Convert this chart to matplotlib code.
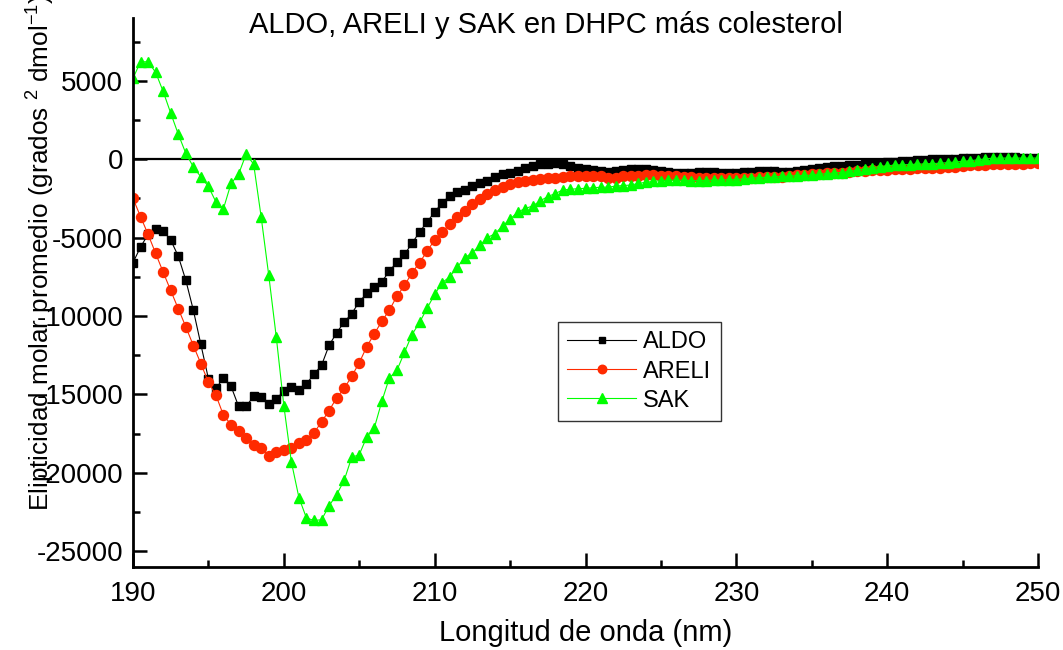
import numpy as np
import matplotlib
matplotlib.use("Agg")
import matplotlib.pyplot as plt
from matplotlib.ticker import MultipleLocator

plt.rcParams["font.family"] = ["Liberation Sans", "DejaVu Sans"]
plt.rcParams["mathtext.fontset"] = "custom"
plt.rcParams["mathtext.rm"] = "Liberation Sans"
plt.rcParams["axes.unicode_minus"] = False

# Wavelength grid (nm), 0.5 nm sampling from 190 to 250
wavelength = np.arange(190, 250.5, 0.5)

# Mean molar ellipticity, one row per 5 nm
aldo = [
    -6600, -5600, -4800, -4430, -4580, -5150, -6180, -7710, -9620, -11810,
    -13990, -14620, -13940, -14480, -15750, -15750, -15120, -15180, -15580, -15280,
    -14800, -14540, -14690, -14320, -13710, -13140, -11870, -11070, -10390, -9850,
    -9090, -8560, -8130, -7810, -7130, -6560, -6070, -5360, -4640, -4000,
    -3370, -2770, -2340, -2110, -1960, -1710, -1530, -1390, -1130, -960,
    -850, -750, -590, -430, -320, -280, -250, -320, -430, -580,
    -640, -680, -750, -800, -750, -700, -640, -600, -620, -700,
    -780, -830, -850, -860, -850, -830, -820, -840, -870, -880,
    -870, -840, -800, -780, -770, -780, -800, -790, -760, -700,
    -620, -560, -500, -450, -420, -380, -350, -330, -300, -250,
    -200, -160, -130, -100, -70, -40, -20, 0, 20, 40,
    60, 80, 100, 110, 120, 130, 120, 110, 100, 90,
    80,
]
areli = [
    -2500, -3660, -4790, -6000, -7200, -8370, -9530, -10680, -11880, -13030,
    -14220, -15050, -16330, -16920, -17300, -17800, -18200, -18410, -18950, -18670,
    -18560, -18410, -18090, -17880, -17450, -16750, -16030, -15220, -14620, -13840,
    -12980, -11950, -11130, -10330, -9620, -8730, -8050, -7240, -6600, -5860,
    -5150, -4640, -4150, -3700, -3300, -2870, -2550, -2240, -1980, -1770,
    -1600, -1450, -1390, -1320, -1280, -1230, -1170, -1130, -1100, -1060,
    -1060, -1060, -1100, -1170, -1170, -1100, -1060, -1060, -1000, -1020,
    -1050, -1080, -1100, -1120, -1150, -1170, -1180, -1190, -1200, -1200,
    -1190, -1180, -1170, -1160, -1150, -1140, -1110, -1080, -1040, -1000,
    -970, -940, -910, -880, -850, -810, -770, -740, -710, -680,
    -660, -640, -620, -600, -590, -570, -560, -540, -510, -470,
    -430, -400, -370, -350, -330, -310, -300, -290, -280, -270,
    -260,
]
sak = [
    5150, 6210, 6210, 5540, 4320, 2940, 1600, 380, -490, -1130,
    -1740, -2730, -3150, -1550, -960, 320, -320, -3700, -7400, -11340,
    -15710, -19300, -21570, -22880, -23030, -22990, -22100, -21390, -20480, -19010,
    -18840, -17710, -17130, -15430, -13940, -13460, -12310, -11180, -10410, -9500,
    -8620, -7870, -7500, -6870, -6280, -5960, -5490, -5000, -4750, -4260,
    -3830, -3370, -3150, -2980, -2660, -2380, -2190, -1960, -1920, -1880,
    -1860, -1820, -1790, -1780, -1720, -1680, -1650, -1550, -1470, -1420,
    -1360, -1340, -1340, -1350, -1360, -1370, -1360, -1340, -1330, -1320,
    -1300, -1260, -1210, -1180, -1160, -1130, -1100, -1080, -1050, -1040,
    -1020, -960, -920, -880, -850, -780, -700, -620, -550, -480,
    -420, -380, -360, -340, -320, -300, -280, -260, -220, -180,
    -140, -100, -40, 20, 60, 70, 70, 70, 70, 70,
    70,
]

fig = plt.figure(figsize=(10.63, 6.5), dpi=100)
ax = fig.add_axes([0.1251, 0.1277, 0.8514, 0.8446])

ax.axhline(0, color="black", lw=1.6, zorder=0.5)

ax.plot(wavelength, aldo, color="black", lw=0.8, marker="s", ms=5.8,
        mec="black", mfc="black", label="ALDO")
ax.plot(wavelength, areli, color="#ff2a00", lw=0.8, marker="o", ms=7.2,
        mec="#ff2a00", mfc="#ff2a00", label="ARELI")
ax.plot(wavelength, sak, color="#00ff00", lw=0.8, marker="^", ms=7.8,
        mec="#00ff00", mfc="#00ff00", label="SAK")

ax.set_xlim(190, 250)
ax.set_ylim(-26000, 9000)
ax.xaxis.set_major_locator(MultipleLocator(10))
ax.xaxis.set_minor_locator(MultipleLocator(5))
ax.yaxis.set_major_locator(MultipleLocator(5000))
ax.yaxis.set_minor_locator(MultipleLocator(2500))
ax.tick_params(which="both", direction="in", width=1.8, labelsize=20)
ax.tick_params(axis="x", pad=10)
ax.tick_params(axis="y", pad=7)
ax.tick_params(which="major", length=10)
ax.tick_params(which="minor", length=5)

# Remove top and right borders
ax.spines["top"].set_visible(False)
ax.spines["right"].set_visible(False)
ax.spines["left"].set_linewidth(2)
ax.spines["bottom"].set_linewidth(2)

ax.set_xlabel("Longitud de onda (nm)", fontsize=21, labelpad=9)
fig.text(0.514, 0.962, "ALDO, ARELI y SAK en DHPC más colesterol",
         ha="center", va="center", fontsize=21)
fig.text(0.037, 1 - 511 / 650,
         r"Elipticidad molar promedio (grados $^{2}$ dmol$^{-1}$)",
         rotation=90, ha="center", va="bottom", fontsize=18.8)

leg = ax.legend(loc="upper left", bbox_to_anchor=(558 / 1063, 1 - 322 / 650),
                bbox_transform=fig.transFigure, borderaxespad=0, fontsize=17,
                frameon=True, fancybox=False, edgecolor="black", numpoints=1,
                handlelength=2.9, handletextpad=0.3, labelspacing=0.3,
                borderpad=0.4, markerscale=0.85)
leg.get_frame().set_linewidth(1.0)

fig.savefig("out.png", dpi=100)
